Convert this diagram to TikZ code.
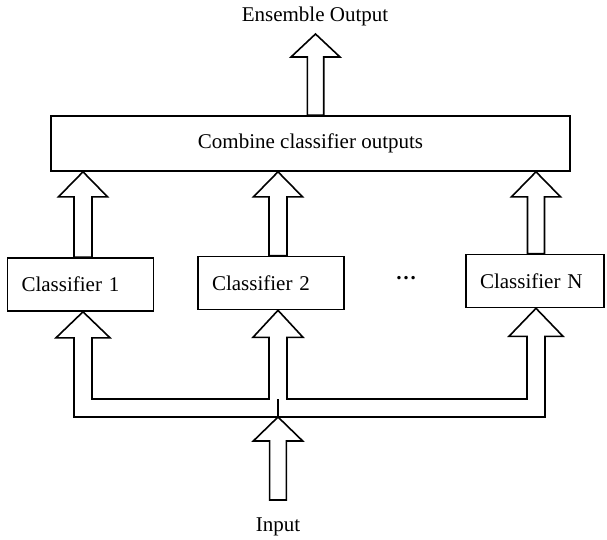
\documentclass[tikz,border=0pt]{standalone}
\usepackage{fontspec}
\setmainfont{Liberation Serif}
\usetikzlibrary{calc}

% Hollow upward block arrow: tip, tail, shaft half-width, head half-width, head length
\newcommand\upblock[5]{%
  \draw[hollow] let \p1=(#1), \p2=(#2) in
    (\p1) -- (\x1-#4,\y1-#5) -- (\x1-#3,\y1-#5) -- (\x1-#3,\y2)
    -- (\x1+#3,\y2) -- (\x1+#3,\y1-#5) -- (\x1+#4,\y1-#5) -- cycle;}

\begin{document}
\begin{tikzpicture}[x=1pt,y=-1pt,
  txt/.style={font=\fontsize{21}{25}\selectfont},
  lbl/.style={txt, inner sep=0pt},
  procbox/.style={draw, line width=1.6pt, txt},
  clsbox/.style={procbox, minimum height=53pt, inner xsep=14pt, inner ysep=0pt, align=left},
  hollow/.style={draw, line width=1.6pt, line join=miter},
  joint/.style={draw, line width=1.1pt}]
\useasboundingbox (0,0) rectangle (607,539);

% column positions of the arrows and levels of the input rails
\coordinate (x1) at (83,0);
\coordinate (x2) at (278,0);
\coordinate (xN) at (536,0);
\coordinate (xo) at (315.5,0);
\coordinate (outtip) at (315.5,34);
\coordinate (railtop) at (0,399);
\coordinate (railbot) at (0,417);
\coordinate (intail) at (278,500);

% boxes
\node[procbox, minimum width=519pt, minimum height=55pt, inner sep=0pt] (comb) at (310.5,143.5) {Combine classifier outputs};
\node[clsbox, text width=118pt] (c1) at (80.5,284.5) {Classifier 1};
\node[clsbox, text width=118pt] (c2) at (271,283) {Classifier 2};
\node[clsbox, text width=110pt] (cN) at (535,281) {Classifier N};
\node[lbl, anchor=base, font=\fontsize{21}{25}\selectfont\bfseries] (dots) at (406,279.5) {…};

% labels
\node[lbl, anchor=base] (out) at (315,21) {Ensemble Output};
\node[lbl, anchor=base] (in) at (278,531.5) {Input};

% classifier outputs into the combiner
\upblock{x1 |- comb.south}{x1 |- c1.north}{9pt}{24.5pt}{25pt}
\upblock{x2 |- comb.south}{x2 |- c2.north}{9pt}{24.5pt}{25pt}
\upblock{xN |- comb.south}{xN |- cN.north}{8.5pt}{24.5pt}{25pt}

% combined output
\upblock{outtip}{xo |- comb.north}{8.2pt}{24.5pt}{23pt}

% input arrow
\upblock{x2 |- railbot}{intail}{8.4pt}{24.7pt}{24pt}

% branching distribution of the input to every classifier
\draw[hollow] let \p1=(x1 |- c1.south), \p2=(x2 |- c2.south), \p3=(xN |- cN.south),
                  \p4=(railtop), \p5=(railbot) in
  (\p1) -- ++(-27pt,-26pt) -- ++(18pt,0pt) -- (\x1-9pt,\y5)
  -- (\x3+9pt,\y5) -- (\x3+9pt,\y3-28pt) -- ++(18pt,0pt) -- (\p3)
  -- ++(-27pt,-28pt) -- ++(18pt,0pt) -- (\x3-9pt,\y4)
  -- (\x2+9pt,\y4) -- (\x2+9pt,\y2-27pt) -- ++(16pt,0pt) -- (\p2)
  -- ++(-25pt,-27pt) -- ++(16pt,0pt) -- (\x2-9pt,\y4)
  -- (\x1+9pt,\y4) -- (\x1+9pt,\y1-26pt) -- ++(18pt,0pt) -- cycle;
\draw[joint] (x2 |- railtop) -- (x2 |- railbot);
\end{tikzpicture}
\end{document}
